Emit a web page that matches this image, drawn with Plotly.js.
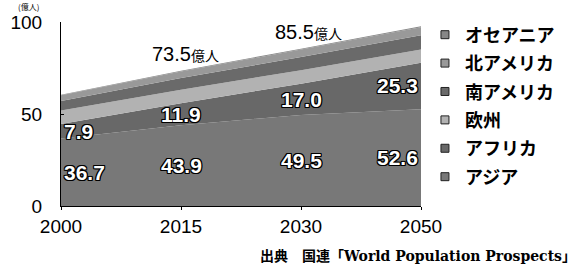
<!DOCTYPE html>
<html>
<head>
<meta charset="utf-8">
<script src="https://cdn.plot.ly/plotly-3.0.1.min.js"></script>
<style>html,body{margin:0;padding:0;background:#fff;}#chart{width:587px;height:264px;}</style>
</head>
<body>
<div id="chart"></div>
<script>
// ---- data ----
const years = ['2000', '2015', '2030', '2050'];
const asia = [36.7, 43.9, 49.5, 52.6];
const africa = [7.9, 11.9, 17.0, 25.3];
const europe = [7.3, 7.4, 7.3, 7.1];
const southAmerica = [5.2, 6.3, 7.2, 7.8];
const northAmerica = [3.1, 3.6, 4.0, 4.3];
const oceania = [0.3, 0.4, 0.5, 0.6];
const seriesNames = ['アジア', 'アフリカ', '欧州', '南アメリカ', '北アメリカ', 'オセアニア'];
const totalLabelYears = ['2015', '2030'];
const totalLabelValues = [73.5, 85.5];
const totalUnit = '億人';
const yTickValues = [0, 50, 100];
const unitLabel = '(億人)';
const sourceLabel = '出典　国連「World Population Prospects」';

// ---- styles ----
const fills = ['#787878', '#686868', '#b2b2b2', '#6a6a6a', '#999999', '#878787'];
const series = [asia, africa, europe, southAmerica, northAmerica, oceania];

const traces = [];
series.forEach((vals, i) => {
  traces.push({
    type: 'scatter', x: years, y: vals, stackgroup: 'pop', mode: 'none',
    fillcolor: fills[i], line: {width: 0}, showlegend: false, hoverinfo: 'skip'
  });
});
// legend-only entries, top of the stack listed first
for (let i = series.length - 1; i >= 0; i--) {
  traces.push({
    type: 'scatter', x: [null], y: [null], mode: 'markers', name: seriesNames[i],
    legendgroup: 'g' + i,
    marker: {symbol: 'square', size: 8, color: fills[i], line: {color: '#222', width: 1}}
  });
}

const outline = '1px 1px 0 #000, -1px -1px 0 #000, 1px -1px 0 #000, -1px 1px 0 #000, 0 1px 0 #000, 0 -1px 0 #000, 1px 0 0 #000, -1px 0 0 #000';
const labelFont = {family: 'Liberation Sans, Arial', size: 21, color: '#fff', weight: 'bold', shadow: outline};
const annotations = [];
years.forEach((yr, j) => {
  // category axis: annotation x uses the category's serial number
  const anchor = j === 0 ? 'left' : (j === years.length - 1 ? 'right' : 'center');
  const xs = j === 0 ? 1 : (j === years.length - 1 ? -1 : 0);
  annotations.push({
    x: j, y: asia[j] / 2, xref: 'x', yref: 'y', text: asia[j].toFixed(1), showarrow: false,
    xanchor: anchor, xshift: xs, yanchor: 'middle', font: labelFont
  });
  annotations.push({
    x: j, y: asia[j] + africa[j] / 2, xref: 'x', yref: 'y', text: africa[j].toFixed(1), showarrow: false,
    xanchor: anchor, xshift: xs, yanchor: 'middle', font: labelFont
  });
});
totalLabelYears.forEach((yr, k) => {
  annotations.push({
    x: years.indexOf(yr), y: totalLabelValues[k], xref: 'x', yref: 'y', showarrow: false,
    text: totalLabelValues[k].toFixed(1) + '<span style="font-size:14px">' + totalUnit + '</span>',
    xanchor: 'center', yanchor: 'bottom', yshift: 4, xshift: 4 + k * 3,
    font: {family: 'Liberation Sans, Noto Sans CJK JP', size: 20, color: '#000'}
  });
});
annotations.push({
  x: -0.09, y: 1.1196, xref: 'paper', yref: 'paper', text: unitLabel, showarrow: false,
  xanchor: 'center', yanchor: 'top', borderpad: 0,
  font: {family: 'Noto Sans CJK JP', size: 8, color: '#000'}
});
annotations.push({
  x: 0.547, y: -0.272, xref: 'paper', yref: 'paper', text: sourceLabel, showarrow: false,
  xanchor: 'left', yanchor: 'middle',
  font: {family: 'DejaVu Serif, Noto Sans CJK JP', size: 14, color: '#000', weight: 'bold'}
});

const layout = {
  width: 587, height: 264,
  margin: {l: 61, r: 166, t: 22, b: 58},
  paper_bgcolor: '#fff', plot_bgcolor: '#fff',
  showlegend: true,
  legend: {
    x: 1.011, y: 1.03, xanchor: 'left', yanchor: 'top', traceorder: 'grouped',
    font: {family: 'Noto Sans CJK JP', size: 18, color: '#000', weight: 'bold'},
    tracegroupgap: 2, bgcolor: 'rgba(0,0,0,0)', itemclick: false, maxheight: 255
  },
  xaxis: {
    type: 'category', range: [0, years.length - 1], showgrid: false, zeroline: false,
    showline: true, linecolor: '#000', linewidth: 1, ticks: 'outside', ticklen: 3, tickcolor: '#000',
    tickfont: {family: 'Liberation Sans, Arial', size: 19, color: '#000'}, fixedrange: true
  },
  yaxis: {
    range: [0, 100], tickvals: yTickValues, showgrid: false, zeroline: false,
    showline: true, linecolor: '#000', linewidth: 1, ticks: 'inside', ticklen: 3, tickcolor: '#000',
    tickfont: {family: 'Liberation Sans, Arial', size: 19, color: '#000'}, fixedrange: true,
    ticklabelstandoff: 14
  },
  annotations: annotations
};

Plotly.newPlot('chart', traces, layout, {displayModeBar: false, staticPlot: true});
</script>
</body>
</html>
